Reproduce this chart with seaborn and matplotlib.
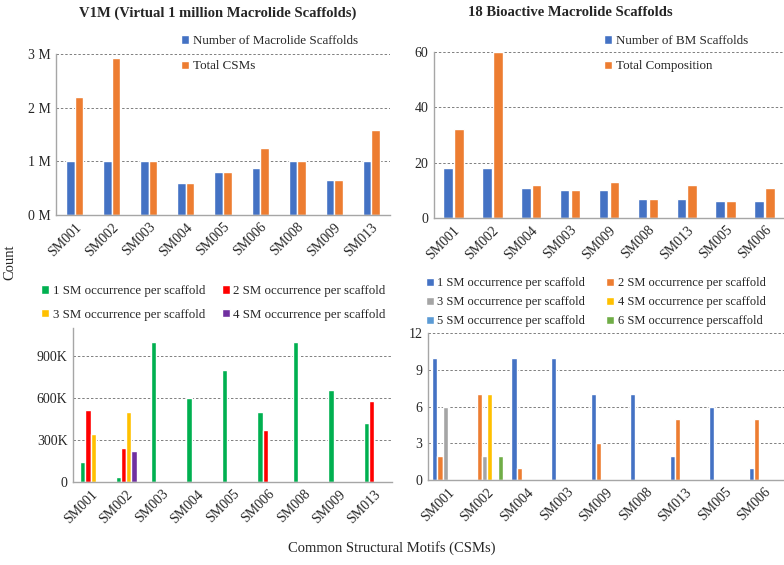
import pandas as pd
import matplotlib.pyplot as plt
import seaborn as sns

sns.set_style("white")
plt.rcParams['font.family'] = ['Liberation Serif', 'DejaVu Serif']

# V1M data (top-left / bottom-left)
v1m_cats = ["SM001", "SM002", "SM003", "SM004", "SM005", "SM006", "SM008", "SM009", "SM013"]
v1m_scaffolds = [1.0e6, 1.0e6, 1.0e6, 0.6e6, 0.8e6, 0.87e6, 1.0e6, 0.66e6, 1.0e6]
v1m_total = [2.2e6, 2.92e6, 1.0e6, 0.6e6, 0.8e6, 1.25e6, 1.0e6, 0.66e6, 1.58e6]
v1m_occ1 = [145e3, 35e3, 1000e3, 600e3, 800e3, 500e3, 1000e3, 660e3, 425e3]
v1m_occ2 = [515e3, 245e3, 0, 0, 0, 375e3, 0, 0, 580e3]
v1m_occ3 = [340e3, 500e3, 0, 0, 0, 0, 0, 0, 0]
v1m_occ4 = [0, 225e3, 0, 0, 0, 0, 0, 0, 0]

# Bioactive data (top-right / bottom-right)
bm_cats = ["SM001", "SM002", "SM004", "SM003", "SM009", "SM008", "SM013", "SM005", "SM006"]
bm_scaffolds = [18, 18, 11, 10, 10, 7, 7, 6, 6]
bm_total = [32, 60, 12, 10, 13, 7, 12, 6, 11]
bm_occ1 = [10, 0, 10, 10, 7, 7, 2, 6, 1]
bm_occ2 = [2, 7, 1, 0, 3, 0, 5, 0, 5]
bm_occ3 = [6, 2, 0, 0, 0, 0, 0, 0, 0]
bm_occ4 = [0, 7, 0, 0, 0, 0, 0, 0, 0]
bm_occ5 = [0, 0, 0, 0, 0, 0, 0, 0, 0]
bm_occ6 = [0, 2, 0, 0, 0, 0, 0, 0, 0]

W, H = 784, 565
fig = plt.figure(figsize=(W / 100, H / 100), dpi=100)


def box(left, top, right, bottom):
    return [left / W, 1 - bottom / H, (right - left) / W, (bottom - top) / H]


def long_df(cats, series):
    rows = []
    for name, vals in series:
        for c, v in zip(cats, vals):
            rows.append({"cat": c, "series": name, "value": v})
    return pd.DataFrame(rows)


def draw(ax, cats, series, colors, width, gap, ylim, ticks, ticklabels):
    df = long_df(cats, series)
    sns.barplot(data=df, x="cat", y="value", hue="series", palette=colors,
                width=width, gap=gap, ax=ax, saturation=1, legend=True)
    ax.set_ylim(*ylim)
    ax.set_yticks(ticks)
    ax.set_yticklabels(ticklabels)
    ax.set_xlabel("")
    ax.set_ylabel("")
    for y in ticks[1:]:
        ax.axhline(y, color="#7f7f7f", ls=(0, (2.5, 2)), lw=0.7, zorder=0)
    for s in ["top", "right"]:
        ax.spines[s].set_visible(False)
    for s in ["left", "bottom"]:
        ax.spines[s].set_color("#a6a6a6")
        ax.spines[s].set_linewidth(1.0)
    ax.tick_params(axis="both", length=0, labelsize=10, pad=4)
    plt.setp(ax.get_xticklabels(), rotation=45, ha="right", rotation_mode="anchor")
    return ax.get_legend_handles_labels()


def legend(ax, handles, labels, x, y, ncol, spacing, fs, colsp=1.0):
    # matplotlib fills columns first; reorder so entries read row by row
    if ncol > 1:
        order = [i for c in range(ncol) for i in range(c, len(handles), ncol)]
        handles = [handles[i] for i in order]
        labels = [labels[i] for i in order]
    ax.legend(handles, labels, loc="upper left", bbox_to_anchor=(x / W, 1 - y / H),
              bbox_transform=fig.transFigure, ncol=ncol, frameon=False,
              handlelength=0.6, handleheight=0.6, handletextpad=0.3,
              labelspacing=spacing, columnspacing=colsp, fontsize=fs, borderaxespad=0, borderpad=0)


# top-left
ax1 = fig.add_axes(box(56, 54, 390, 215))
h, l = draw(ax1, v1m_cats,
            [("Number of Macrolide Scaffolds", v1m_scaffolds), ("Total CSMs", v1m_total)],
            ["#4472C4", "#ED7D31"], 0.46, 0, (0, 3e6),
            [0, 1e6, 2e6, 3e6], ["0 M", "1 M", "2 M", "3 M"])
legend(ax1, h, l, 181, 35, 1, 1.03, 9.4)

# top-right
ax2 = fig.add_axes(box(434, 52, 784, 218))
h, l = draw(ax2, bm_cats,
            [("Number of BM Scaffolds", bm_scaffolds), ("Total Composition", bm_total)],
            ["#4472C4", "#ED7D31"], 0.56, 0.12, (0, 60),
            [0, 20, 40, 60], ["0", "20", "40", "60"])
legend(ax2, h, l, 604, 35, 1, 1.03, 9.4)

# bottom-left
ax3 = fig.add_axes(box(73, 328, 392, 482))
h, l = draw(ax3, v1m_cats,
            [("1 SM occurrence per scaffold", v1m_occ1), ("2 SM occurrence per scaffold", v1m_occ2),
             ("3 SM occurrence per scaffold", v1m_occ3), ("4 SM occurrence per scaffold", v1m_occ4)],
            ["#00B050", "#FF0000", "#FFC000", "#7030A0"], 0.6, 0, (0, 1.1e6),
            [0, 3e5, 6e5, 9e5], ["0", "300K", "600K", "900K"])
legend(ax3, h, l, 41, 285, 2, 0.92, 9.3, 1.3)

# bottom-right
ax4 = fig.add_axes(box(428, 333, 784, 480))
h, l = draw(ax4, bm_cats,
            [("1 SM occurrence per scaffold", bm_occ1), ("2 SM occurrence per scaffold", bm_occ2),
             ("3 SM occurrence per scaffold", bm_occ3), ("4 SM occurrence per scaffold", bm_occ4),
             ("5 SM occurrence per scaffold", bm_occ5), ("6 SM occurrence perscaffold", bm_occ6)],
            ["#4472C4", "#ED7D31", "#A5A5A5", "#FFC000", "#5B9BD5", "#70AD47"], 0.78, 0, (0, 12),
            [0, 3, 6, 9, 12], ["0", "3", "6", "9", "12"])
legend(ax4, h, l, 426, 277, 2, 0.57, 9, 1.7)

fig.text(218 / W, 1 - 13 / H, "V1M (Virtual 1 million Macrolide Scaffolds)",
         ha="center", va="center", fontsize=10.5, fontweight="bold")
fig.text(570 / W, 1 - 13 / H, "18 Bioactive Macrolide Scaffolds",
         ha="center", va="center", fontsize=10.5, fontweight="bold")
fig.text(10 / W, 1 - 262 / H, "Count", rotation=90, ha="center", va="center", fontsize=10.5)
fig.text(392 / W, 1 - 548 / H, "Common Structural Motifs (CSMs)", ha="center", va="center", fontsize=10.5)

fig.savefig("out.png", dpi=100)
